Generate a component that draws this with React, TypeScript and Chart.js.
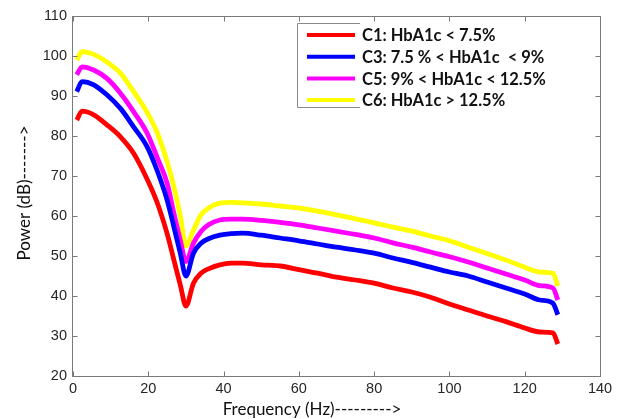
import React, { useEffect, useRef } from "react";
import { Chart, registerables } from "chart.js";

Chart.register(...registerables);

const freq = [1, 2.4, 5.5, 9, 12.6, 16.1, 19.7, 22.3, 25, 26.8, 28.5, 30, 32, 34, 36, 39, 42, 45, 50, 55, 60, 65, 70, 75, 80, 85, 90, 95, 100, 105, 110, 115, 120, 124, 127.5, 128.8];

const c1 = [84, 86.2, 85.3, 82.8, 79.8, 75.7, 69.2, 63.5, 55.6, 49, 42.8, 37.5, 43.2, 45.7, 46.8, 47.8, 48.2, 48.2, 47.8, 47.5, 46.6, 45.7, 44.7, 44, 43.2, 42, 41, 39.7, 38, 36.5, 35, 33.6, 32, 31, 30.8, 28];
const c3 = [91.1, 93.6, 92.8, 90.3, 86.9, 82.3, 77.3, 71.5, 64, 57.3, 50.7, 45, 50.7, 53.2, 54.3, 55.2, 55.6, 55.7, 55.2, 54.5, 53.8, 53, 52.2, 51.5, 50.7, 49.5, 48.4, 47.2, 46, 45, 43.5, 42, 40.5, 39, 38.2, 35.3];
const c5 = [95.3, 97.3, 96.5, 94.4, 90.7, 86.1, 80.7, 74.8, 68.2, 60.7, 54, 48.6, 53.2, 56.1, 57.8, 59, 59.2, 59.2, 58.9, 58.4, 57.8, 57, 56.2, 55.4, 54.5, 53.3, 52.2, 51, 49.8, 48.5, 47, 45.5, 44, 42.6, 42, 39];
const c6 = [99, 101.1, 100.4, 98.5, 95.7, 91.1, 85.9, 81, 73.6, 67.3, 60.1, 52.5, 56.5, 60.3, 62, 63.2, 63.4, 63.3, 63, 62.5, 62, 61.2, 60.3, 59.3, 58.3, 57.2, 56.2, 55, 53.8, 52.2, 50.6, 49, 47.2, 46, 45.7, 42.5];

const seriesLabels = ["C1: HbA1c < 7.5%", "C3: 7.5 % < HbA1c  < 9%", "C5: 9% < HbA1c < 12.5%", "C6: HbA1c > 12.5%"];
const seriesColors = ["#ff0000", "#0000ff", "#ff00ff", "#ffff00"];
const seriesValues = [c1, c3, c5, c6];

const xTicks = [0, 20, 40, 60, 80, 100, 120, 140];
const yTicks = [20, 30, 40, 50, 60, 70, 80, 90, 100, 110];
const xTitle = "Frequency (Hz)--------->";
const yTitle = "Power (dB)------->";

const AXIS_COLOR = "#7a7a7a";
const TEXT_COLOR = "#262626";
const TITLE_FONT = "17px Lato, 'Open Sans', sans-serif";
const LEGEND_FONT = "bold 16.5px Lato, 'Open Sans', sans-serif";

const framePlugin = {
  id: "frameAndLegend",
  afterDatasetsDraw(chart: any) {
    const ctx = chart.ctx;
    const ca = chart.chartArea;
    const lx = ca.left + 224;
    const ly = ca.top + 7;
    const lw = 296;
    const lh = 84;
    ctx.save();
    ctx.fillStyle = "#ffffff";
    ctx.fillRect(lx, ly, lw, lh);
    ctx.strokeStyle = "#8a8a8a";
    ctx.lineWidth = 1;
    ctx.beginPath();
    ctx.moveTo(lx + 63, ly + 0.5);
    ctx.lineTo(lx + 0.5, ly + 0.5);
    ctx.lineTo(lx + 0.5, ly + lh + 0.5);
    ctx.lineTo(lx + 63, ly + lh + 0.5);
    ctx.stroke();
    ctx.font = LEGEND_FONT;
    ctx.textBaseline = "middle";
    ctx.textAlign = "left";
    seriesLabels.forEach((lab, i) => {
      const y = ly + 12 + i * 21.7;
      ctx.strokeStyle = seriesColors[i];
      ctx.lineWidth = 4;
      ctx.beginPath();
      ctx.moveTo(lx + 10, y);
      ctx.lineTo(lx + 58, y);
      ctx.stroke();
      ctx.fillStyle = "#111111";
      ctx.fillText(lab, lx + 65, y + 1);
    });
    ctx.restore();
  },
  afterDraw(chart: any) {
    const ctx = chart.ctx;
    const ca = chart.chartArea;
    const xs = chart.scales.x;
    const ys = chart.scales.y;
    ctx.save();
    ctx.strokeStyle = AXIS_COLOR;
    ctx.lineWidth = 1;
    const L = Math.round(ca.left) - 0.5;
    const R = Math.round(ca.right) + 0.5;
    const T = Math.round(ca.top) + 0.5;
    const B = Math.round(ca.bottom) + 0.5;
    ctx.strokeRect(L, T, R - L, B - T);
    ctx.beginPath();
    xTicks.forEach((v) => {
      const px = Math.round(xs.getPixelForValue(v)) + 0.5;
      ctx.moveTo(px, B);
      ctx.lineTo(px, B - 5);
      ctx.moveTo(px, T);
      ctx.lineTo(px, T + 5);
    });
    yTicks.forEach((v) => {
      const py = Math.round(ys.getPixelForValue(v)) + 0.5;
      ctx.moveTo(L, py);
      ctx.lineTo(L + 5, py);
      ctx.moveTo(R, py);
      ctx.lineTo(R - 5, py);
    });
    ctx.stroke();
    ctx.fillStyle = "#111111";
    ctx.font = TITLE_FONT;
    ctx.textAlign = "center";
    ctx.textBaseline = "middle";
    ctx.fillText(xTitle, ca.left + 239, ca.bottom + 34);
    ctx.translate(25, ca.top + 177);
    ctx.rotate(-Math.PI / 2);
    ctx.fillText(yTitle, 0, 0);
    ctx.restore();
  },
};

export default function App() {
  const ref = useRef<HTMLCanvasElement | null>(null);
  useEffect(() => {
    document.body.style.margin = "0";
    const canvas = ref.current;
    if (!canvas) return;
    const chart = new Chart(canvas, {
      type: "line",
      data: {
        datasets: seriesValues.map((vals, i) => ({
          label: seriesLabels[i],
          data: freq.map((f, j) => ({ x: f, y: vals[j] })),
          borderColor: seriesColors[i],
          backgroundColor: seriesColors[i],
          borderWidth: 4.8,
          pointRadius: 0,
          fill: false,
          cubicInterpolationMode: "monotone" as const,
        })),
      },
      options: {
        responsive: false,
        animation: false,
        devicePixelRatio: 1,
        layout: { padding: { top: 16, right: 22, left: 0, bottom: 0 } },
        plugins: { legend: { display: false }, tooltip: { enabled: false } },
        scales: {
          x: {
            type: "linear",
            min: 0,
            max: 140,
            afterFit: (s: any) => {
              s.height = 43;
            },
            afterBuildTicks: (s: any) => {
              s.ticks = xTicks.map((v) => ({ value: v }));
            },
            grid: { display: false, drawTicks: false },
            border: { display: false },
            ticks: {
              padding: 4,
              color: TEXT_COLOR,
              font: { family: "'Liberation Sans', Arial, sans-serif", size: 14.5 },
              maxRotation: 0,
            },
          },
          y: {
            type: "linear",
            min: 20,
            max: 110,
            afterFit: (s: any) => {
              s.width = 73;
            },
            afterBuildTicks: (s: any) => {
              s.ticks = yTicks.map((v) => ({ value: v }));
            },
            grid: { display: false, drawTicks: false },
            border: { display: false },
            ticks: {
              padding: 6,
              color: TEXT_COLOR,
              font: { family: "'Liberation Sans', Arial, sans-serif", size: 14.5 },
            },
          },
        },
      },
      plugins: [framePlugin],
    });
    return () => chart.destroy();
  }, []);
  return <canvas ref={ref} width={622} height={419} style={{ display: "block" }} />;
}
